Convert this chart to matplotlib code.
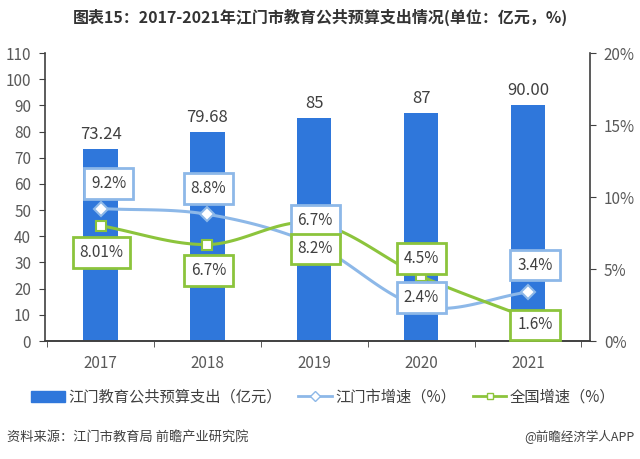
import numpy as np
import matplotlib
matplotlib.use("Agg")
import matplotlib.pyplot as plt
from matplotlib.ticker import FuncFormatter, MultipleLocator

plt.rcParams['font.family'] = ['Noto Sans CJK SC', 'DejaVu Sans']

years = ["2017", "2018", "2019", "2020", "2021"]
spend = [73.24, 79.68, 85, 87, 90.00]
spend_labels = ["73.24", "79.68", "85", "87", "90.00"]
jm_growth = [9.2, 8.8, 6.7, 2.4, 3.4]
cn_growth = [8.01, 6.7, 8.2, 4.5, 1.6]
jm_labels = ["9.2%", "8.8%", "6.7%", "2.4%", "3.4%"]
cn_labels = ["8.01%", "6.7%", "8.2%", "4.5%", "1.6%"]

BAR = "#2f77db"
LBLUE = "#8db8e8"
GREEN = "#8cc43c"
TXT = "#404040"
AX = "#404040"

def smooth(xs, ys, n=30):
    xs = np.asarray(xs, float); ys = np.asarray(ys, float)
    px = np.concatenate([[2*xs[0]-xs[1]], xs, [2*xs[-1]-xs[-2]]])
    py = np.concatenate([[2*ys[0]-ys[1]], ys, [2*ys[-1]-ys[-2]]])
    ox, oy = [], []
    for i in range(1, len(px)-2):
        p0, p1, p2, p3 = (np.array([px[j], py[j]]) for j in range(i-1, i+3))
        c1 = p1 + (p2 - p0) / 6
        c2 = p2 - (p3 - p1) / 6
        t = np.linspace(0, 1, n)[:, None]
        pts = (1-t)**3*p1 + 3*(1-t)**2*t*c1 + 3*(1-t)*t**2*c2 + t**3*p2
        ox.extend(pts[:, 0]); oy.extend(pts[:, 1])
    return np.array(ox), np.array(oy)

fig = plt.figure(figsize=(6.4, 4.59), dpi=100)
ax = fig.add_axes([0.0703, 0.257, 0.8516, 0.6275])
ax2 = ax.twinx()

x = np.arange(len(years))
ax.bar(x, spend, width=0.32, color=BAR, zorder=2)
for xi, v, s in zip(x, spend, spend_labels):
    ax.annotate(s, (xi, v), xytext=(0, 6), textcoords='offset pixels',
                ha='center', va='bottom', fontsize=12, color=TXT)

ax.set_ylim(0, 110)
ax.set_xlim(-0.52, 4.58)
ax.yaxis.set_major_locator(MultipleLocator(10))
ax.set_xticks(x)
ax.set_xticklabels(years)
ax.set_xticks(np.arange(-0.5, 4.6, 1.0), minor=True)
ax.tick_params(axis='x', which='major', length=0, pad=10, labelsize=11, labelcolor="#595959")
ax.tick_params(axis='x', which='minor', length=4, color=AX, direction='out')
ax.tick_params(axis='y', length=4, color=AX, labelsize=11, labelcolor="#595959", pad=6)

ax2.set_ylim(0, 20)
ax2.yaxis.set_major_locator(MultipleLocator(5))
ax2.yaxis.set_major_formatter(FuncFormatter(lambda v, p: f"{v:.0f}%"))
ax2.tick_params(axis='y', length=4, color=AX, labelsize=11, labelcolor="#595959", pad=6)

for a in (ax, ax2):
    a.spines['top'].set_visible(False)
    for s in ('left', 'right', 'bottom'):
        a.spines[s].set_color(AX)
        a.spines[s].set_linewidth(1.2)
ax.spines['right'].set_visible(False)
ax2.spines['left'].set_visible(False)

sx, sy = smooth(x, jm_growth)
ax2.plot(sx, sy, color=LBLUE, lw=2.2, zorder=3)
ax2.plot(x, jm_growth, ls='none', marker='D', ms=7, mfc='white', mec=LBLUE, mew=1.5, zorder=4)
sx, sy = smooth(x, cn_growth)
ax2.plot(sx, sy, color=GREEN, lw=2.2, zorder=3)
ax2.plot(x, cn_growth, ls='none', marker='s', ms=7, mfc='white', mec=GREEN, mew=1.5, zorder=4)

jm_off = [(8, 25), (1, 26), (1, 24), (0, 9), (7, 27)]
cn_off = [(1, -27), (1, -26), (1, -26), (0, 18), (7, -7)]
for xi, v, s, o in zip(x, jm_growth, jm_labels, jm_off):
    ax2.annotate(s, (xi, v), xytext=o, textcoords='offset pixels', ha='center', va='center',
                 fontsize=11, color=TXT, zorder=6,
                 bbox=dict(boxstyle='square,pad=0.45', fc='white', ec=LBLUE, lw=2))
for xi, v, s, o in zip(x, cn_growth, cn_labels, cn_off):
    ax2.annotate(s, (xi, v), xytext=o, textcoords='offset pixels', ha='center', va='center',
                 fontsize=11, color=TXT, zorder=6,
                 bbox=dict(boxstyle='square,pad=0.45', fc='white', ec=GREEN, lw=2))

fig.text(0.5, 0.962, "图表15：2017-2021年江门市教育公共预算支出情况(单位：亿元，%)",
         ha='center', va='center', fontsize=11.5, fontweight='bold', color="#333333")

from matplotlib.patches import Patch
from matplotlib.lines import Line2D
handles = [Patch(color=BAR),
           Line2D([], [], color=LBLUE, lw=2, marker='D', ms=5, mfc='white', mec=LBLUE),
           Line2D([], [], color=GREEN, lw=2, marker='s', ms=5, mfc='white', mec=GREEN)]
labels = ["江门教育公共预算支出（亿元）", "江门市增速（%）", "全国增速（%）"]
fig.legend(handles, labels, loc='center', bbox_to_anchor=(0.505, 0.135), ncol=3, frameon=False,
           fontsize=11, handlelength=2.2, handletextpad=0.2, columnspacing=1.1,
           labelcolor=TXT)

fig.text(0.011, 0.047, "资料来源：江门市教育局 前瞻产业研究院", ha='left', va='center',
         fontsize=9.5, color=TXT)
fig.text(0.992, 0.047, "@前瞻经济学人APP", ha='right', va='center', fontsize=9, color=TXT)

fig.savefig("out.png", dpi=100)
